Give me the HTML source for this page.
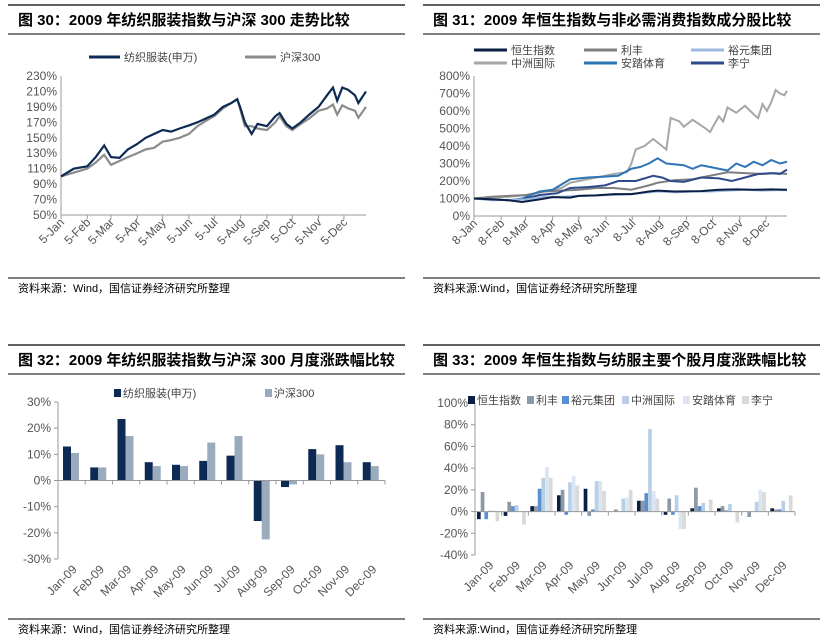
<!DOCTYPE html>
<html><head><meta charset="utf-8">
<style>
html,body{margin:0;padding:0;background:#fff;}
svg{display:block;font-family:"Liberation Sans","Noto Sans CJK SC",sans-serif;}
.title{font-size:15px;font-weight:bold;fill:#000;}
.tick{font-size:12px;fill:#555;}
.leg{font-size:11px;fill:#444;}
.src{font-size:11px;fill:#000;}
</style></head>
<body>
<svg id="s" width="831" height="644" viewBox="0 0 831 644">
<g>
<line x1="8" y1="5" x2="405" y2="5" stroke="#000" stroke-width="1.2"/>
<line x1="8" y1="34" x2="405" y2="34" stroke="#000" stroke-width="1"/>
<text class="title" x="18" y="25">图 30：2009 年纺织服装指数与沪深 300 走势比较</text>
<line x1="8" y1="278" x2="405" y2="278" stroke="#000" stroke-width="1"/>
<text class="src" x="18" y="292">资料来源：Wind，国信证券经济研究所整理</text>
</g>
<g>
<line x1="423" y1="5" x2="820" y2="5" stroke="#000" stroke-width="1.2"/>
<line x1="423" y1="34" x2="820" y2="34" stroke="#000" stroke-width="1"/>
<text class="title" x="433" y="25">图 31：2009 年恒生指数与非必需消费指数成分股比较</text>
<line x1="423" y1="278" x2="820" y2="278" stroke="#000" stroke-width="1"/>
<text class="src" x="433" y="292">资料来源:Wind，国信证券经济研究所整理</text>
</g>
<g>
<line x1="8" y1="345" x2="405" y2="345" stroke="#000" stroke-width="1.2"/>
<line x1="8" y1="374" x2="405" y2="374" stroke="#000" stroke-width="1"/>
<text class="title" x="18" y="365">图 32：2009 年纺织服装指数与沪深 300 月度涨跌幅比较</text>
<line x1="8" y1="619" x2="405" y2="619" stroke="#000" stroke-width="1"/>
<text class="src" x="18" y="633">资料来源：Wind，国信证券经济研究所整理</text>
</g>
<g>
<line x1="423" y1="345" x2="820" y2="345" stroke="#000" stroke-width="1.2"/>
<line x1="423" y1="374" x2="820" y2="374" stroke="#000" stroke-width="1"/>
<text class="title" x="433" y="365">图 33：2009 年恒生指数与纺服主要个股月度涨跌幅比较</text>
<line x1="423" y1="619" x2="820" y2="619" stroke="#000" stroke-width="1"/>
<text class="src" x="433" y="633">资料来源:Wind，国信证券经济研究所整理</text>
</g>
</svg>
<script>
// ---------- Chart 30 data ----------
const c30Days = [0,15,31,41,51,59,69,79,90,100,110,120,130,140,151,161,171,181,191,201,208,212,217,225,232,243,253,258,266,273,283,293,304,314,321,326,332,339,347,351,360];
const c30Fabric = [100,110,113,125,140,125,124,135,142,150,155,160,158,162,166,170,175,180,190,195,200,188,170,155,168,165,178,182,168,162,170,180,190,205,215,198,215,212,205,195,210];
const c30Hs300 = [100,105,110,118,128,115,120,125,130,135,137,145,147,150,155,165,172,178,188,195,200,185,165,165,162,160,170,178,165,160,168,175,185,188,193,180,192,188,185,176,190];
const c30YTicks = [50,70,90,110,130,150,170,190,210,230];
const c30XLabels = ["5-Jan","5-Feb","5-Mar","5-Apr","5-May","5-Jun","5-Jul","5-Aug","5-Sep","5-Oct","5-Nov","5-Dec"];
const c30XTickDays = [0,31,59,90,120,151,181,212,243,273,304,334];
// ---------- Chart 31 data ----------
const c31Names = ["恒生指数","利丰","裕元集团","中洲国际","安踏体育","李宁"];
const c31DaysA = [0,20,40,55,75,90,110,120,140,160,180,200,210,230,260,280,300,320,340,358];
const c31Hsi = [100,95,90,80,95,108,105,115,118,125,125,140,145,140,142,150,152,150,152,150];
const c31DaysB = [0,20,40,60,80,100,120,140,160,180,200,210,230,250,270,290,310,330,345,358];
const c31Lifeng = [100,110,115,120,140,145,150,160,160,150,175,190,205,210,230,250,245,240,245,240];
const c31Yueyuen = [100,90,92,95,110,110,115,118,120,125,135,140,135,140,140,145,150,145,148,148];
const c31DaysC = [0,20,40,60,80,100,110,120,140,160,175,180,185,195,205,215,220,225,235,240,250,265,270,280,285,290,300,310,320,325,330,335,340,345,350,355,358];
const c31Ports = [100,105,110,120,140,160,190,200,220,240,250,300,380,400,440,400,380,560,540,510,550,500,480,570,540,620,590,630,580,560,640,600,650,720,700,690,715];
const c31DaysD = [0,20,40,55,75,90,110,130,150,165,180,190,200,210,220,240,250,260,270,290,300,310,320,330,340,350,358];
const c31Anta = [100,95,90,100,140,150,210,220,225,230,270,280,300,330,300,290,270,290,280,260,300,280,310,290,320,300,310];
const c31DaysE = [0,20,40,55,75,95,110,130,150,165,185,205,215,225,240,260,280,295,310,325,340,350,358];
const c31Lining = [100,95,90,95,120,130,160,165,175,200,200,230,220,200,195,220,215,200,220,240,245,240,265];
const c31YTicks = [0,100,200,300,400,500,600,700,800];
const c31XLabels = ["8-Jan","8-Feb","8-Mar","8-Apr","8-May","8-Jun","8-Jul","8-Aug","8-Sep","8-Oct","8-Nov","8-Dec"];
const c31XTickDays = [0,31,59,90,120,151,181,212,243,273,304,334];
// ---------- Chart 32 data ----------
const months = ["Jan-09","Feb-09","Mar-09","Apr-09","May-09","Jun-09","Jul-09","Aug-09","Sep-09","Oct-09","Nov-09","Dec-09"];
const c32Fabric = [13,5,23.5,7,6,7.5,9.5,-15.5,-2.5,12,13.5,7];
const c32Hs300 = [10.5,5,17,5.5,5.5,14.5,17,-22.5,-1.5,10,7,5.5];
const c32YTicks = [-30,-20,-10,0,10,20,30];
// ---------- Chart 33 data ----------
const c33Hsi = [-7,-4,5,15,21,0,10,-3,3,3,0,3];
const c33Lifeng = [18,9,5,20,-4,2,10,12,22,5,-5,2];
const c33Yueyuen = [-7,5,21,-3,2,0,17,-3,5,1,0,2];
const c33Ports = [1,6,31,27,28,12,76,15,8,7,9,10];
const c33Anta = [1,0,41,33,28,13,19,-16,0,0,20,0];
const c33Lining = [-9,-12,31,24,19,20,12,-16,11,-10,18,15];
const c33YTicks = [-40,-20,0,20,40,60,80,100];

const NS="http://www.w3.org/2000/svg";
const svg=document.getElementById('s');
function mk(tag,attrs,parent){const e=document.createElementNS(NS,tag);for(const k in attrs)e.setAttribute(k,attrs[k]);(parent||svg).appendChild(e);return e;}
function lin(d0,d1,r0,r1){return v=>r0+(v-d0)*(r1-r0)/(d1-d0);}

// ===== Chart 30 =====
(function(){
  const g=mk('g',{});
  
  
  const x=lin(0,360,61,366), y=lin(50,230,215,76);
  const ax=mk('path',{d:`M61,76V215H366`,stroke:'#999',fill:'none'},g);
  
  
  c30YTicks.forEach(t=>{const tx=mk('text',{class:'tick',x:57,y:y(t)+4,'text-anchor':'end'},g);tx.textContent=t+'%';
    
    });
  c30XTickDays.forEach((d,i)=>{mk('line',{x1:x(d),x2:x(d),y1:215,y2:219,stroke:'#999'},g);
    const tx=mk('text',{class:'tick',x:x(d)+4,y:223,'text-anchor':'end',transform:`rotate(-45 ${x(d)+4} 223)`},g);tx.textContent=c30XLabels[i];
    
    });
  [[c30Hs300,'#8c8c8c','hs300-line'],[c30Fabric,'#0d2a55','fabric-line']].forEach(([s,c,n])=>{
    const p=mk('polyline',{points:s.map((v,i)=>x(c30Days[i])+','+y(v)).join(' '),fill:'none',stroke:c,'stroke-width':2.2},g);
    
    });
  const l1=mk('line',{x1:89,x2:120,y1:57,y2:57,stroke:'#0d2a55','stroke-width':3},g);
  
  
  const t1=mk('text',{class:'leg',x:124,y:61},g);t1.textContent='纺织服装(申万)';
  
  
  const l2=mk('line',{x1:245,x2:276,y1:57,y2:57,stroke:'#8c8c8c','stroke-width':3},g);
  
  
  const t2=mk('text',{class:'leg',x:280,y:61},g);t2.textContent='沪深300';
  
  
})();

// ===== Chart 31 =====
(function(){
  const g=mk('g',{});
  
  
  const x=lin(0,358,474,787), y=lin(0,800,216,76);
  const ax=mk('path',{d:`M474,76V216H787`,stroke:'#999',fill:'none'},g);
  
  
  c31YTicks.forEach(t=>{const tx=mk('text',{class:'tick',x:470,y:y(t)+4,'text-anchor':'end'},g);tx.textContent=t+'%';
    
    });
  c31XTickDays.forEach((d,i)=>{mk('line',{x1:x(d),x2:x(d),y1:216,y2:220,stroke:'#999'},g);
    const tx=mk('text',{class:'tick',x:x(d)+4,y:224,'text-anchor':'end',transform:`rotate(-45 ${x(d)+4} 224)`},g);tx.textContent=c31XLabels[i];
    
    });
  const series=[[c31DaysC,c31Ports,'#a6a6a6'],[c31DaysB,c31Lifeng,'#7f7f7f'],[c31DaysD,c31Anta,'#2e75b6'],[c31DaysE,c31Lining,'#2f4a8a'],[c31DaysB,c31Yueyuen,'#9db9e0'],[c31DaysA,c31Hsi,'#0b1f45']];
  const order=[3,1,4,5,2,0];
  series.forEach(([dx,s,c],k)=>{
    const p=mk('polyline',{points:s.map((v,i)=>x(dx[i])+','+y(v)).join(' '),fill:'none',stroke:c,'stroke-width':2},g);
    
    });
  const cols=['#0b1f45','#7f7f7f','#9db9e0','#a6a6a6','#2e75b6','#2f4a8a'];
  const lx=[474,584,691];
  c31Names.forEach((n,i)=>{const cx=lx[i%3], cy=i<3?50:63;
    const l=mk('line',{x1:cx,x2:cx+33,y1:cy,y2:cy,stroke:cols[i],'stroke-width':3},g);
    
    
    const t=mk('text',{class:'leg',x:cx+37,y:cy+4},g);t.textContent=n;
    
    });
})();

// ===== Chart 32 =====
(function(){
  const g=mk('g',{});
  
  
  const y=lin(-30,30,559,402), x0=58, x1=385, w=(x1-x0)/months.length;
  const ax=mk('path',{d:`M58,402V559`,stroke:'#999',fill:'none'},g);
  
  
  c32YTicks.forEach(t=>{mk('line',{x1:54,x2:58,y1:y(t),y2:y(t),stroke:'#999'},g);
    const tx=mk('text',{class:'tick',x:51,y:y(t)+4,'text-anchor':'end'},g);tx.textContent=t+'%';
    
    });
  months.forEach((m,i)=>{
    const gx=x0+i*w;
    [[c32Fabric,'#0d2a55',0],[c32Hs300,'#9aabbd',1]].forEach(([s,c,k])=>{
      const v=s[i];const r=mk('rect',{x:gx+5+k*8,width:8,y:Math.min(y(v),y(0)),height:Math.abs(y(v)-y(0)),fill:c},g);
      
      });
    mk('line',{x1:gx+w,x2:gx+w,y1:y(0),y2:y(0)+4,stroke:'#999'},g);
    const tx=mk('text',{class:'tick',x:gx+w/2+6,y:570,'text-anchor':'end',transform:`rotate(-45 ${gx+w/2+6} 570)`},g);tx.textContent=m;
    
    
  });
  const ax2=mk('line',{x1:58,x2:385,y1:y(0),y2:y(0),stroke:'#999'},g);
  
  
  const r1=mk('rect',{x:114,y:389,width:7,height:8,fill:'#0d2a55'},g);
  
  
  const t1=mk('text',{class:'leg',x:123,y:397},g);t1.textContent='纺织服装(申万)';
  
  
  const r2=mk('rect',{x:265,y:389,width:7,height:8,fill:'#9aabbd'},g);
  
  
  const t2=mk('text',{class:'leg',x:274,y:397},g);t2.textContent='沪深300';
  
  
})();

// ===== Chart 33 =====
(function(){
  const g=mk('g',{});
  
  
  const y=lin(-40,100,555,403), x0=475, x1=795, w=(x1-x0)/months.length;
  const ax=mk('path',{d:`M475,403V555`,stroke:'#999',fill:'none'},g);
  
  
  c33YTicks.forEach(t=>{mk('line',{x1:471,x2:475,y1:y(t),y2:y(t),stroke:'#999'},g);
    const tx=mk('text',{class:'tick',x:468,y:y(t)+4,'text-anchor':'end'},g);tx.textContent=t+'%';
    
    });
  const ser=[c33Hsi,c33Lifeng,c33Yueyuen,c33Ports,c33Anta,c33Lining];
  const cols=['#0b1f45','#8c9aa8','#5b8fcf','#b8cfe8','#dce6f2','#d9d9d9'];
  months.forEach((m,i)=>{
    const gx=x0+i*w;
    ser.forEach((s,k)=>{const v=s[i];
      const r=mk('rect',{x:gx+2+k*3.7,width:3.7,y:Math.min(y(v),y(0)),height:Math.abs(y(v)-y(0)),fill:cols[k]},g);
      
      });
    mk('line',{x1:gx+w,x2:gx+w,y1:y(0),y2:y(0)+4,stroke:'#999'},g);
    const tx=mk('text',{class:'tick',x:gx+w/2+6,y:566,'text-anchor':'end',transform:`rotate(-45 ${gx+w/2+6} 566)`},g);tx.textContent=m;
    
    
  });
  const ax2=mk('line',{x1:475,x2:795,y1:y(0),y2:y(0),stroke:'#999'},g);
  
  
  const names=["恒生指数","利丰","裕元集团","中洲国际","安踏体育","李宁"];
  const lx=[468,527,562,622,683,742];
  names.forEach((n,i)=>{
    const r=mk('rect',{x:lx[i],y:396,width:7,height:8,fill:cols[i]},g);
    
    
    const t=mk('text',{class:'leg',x:lx[i]+9,y:404},g);t.textContent=n;
    
    });
})();
</script>
</body></html>
